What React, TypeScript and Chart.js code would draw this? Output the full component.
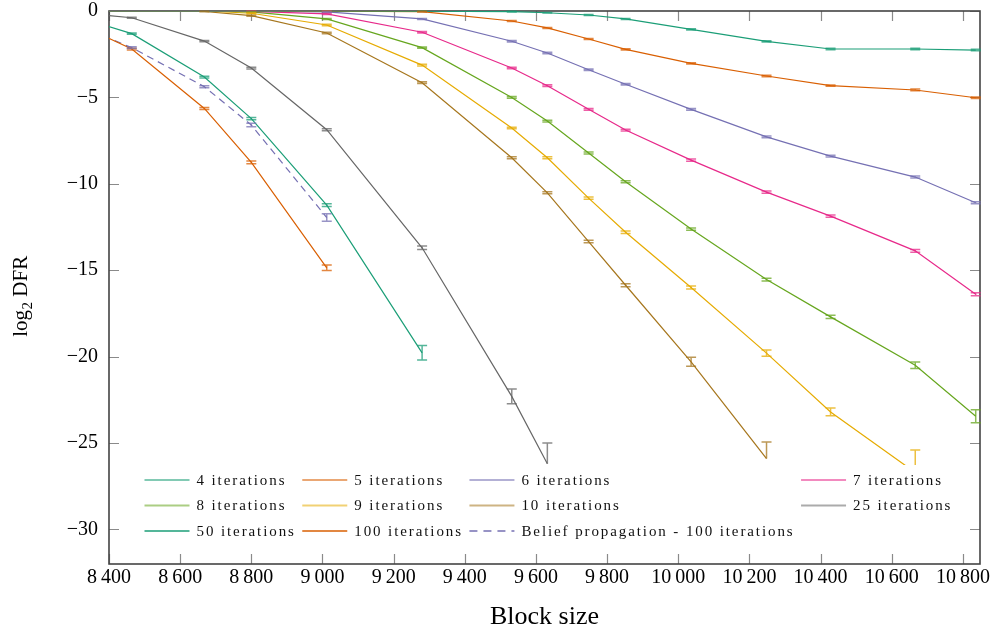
import React, { useEffect, useRef } from 'react';
import { Chart, registerables } from 'chart.js';

Chart.register(...registerables);

// ---- data ----
const blockSizes = [8260, 8464, 8668, 8800, 9012, 9280, 9532, 9632, 9748, 9852, 10036, 10248, 10428, 10666, 10836];
const xTickValues = [8400, 8600, 8800, 9000, 9200, 9400, 9600, 9800, 10000, 10200, 10400, 10600, 10800];
const yTickValues = [0, -5, -10, -15, -20, -25, -30];

const it4 = [0, 0, 0, 0, 0, -0.01, -0.04, -0.1, -0.23, -0.46, -1.06, -1.76, -2.2, -2.2, -2.26];
const it4Err = [0, 0, 0, 0, 0, 0.02, 0.02, 0.02, 0.03, 0.03, 0.04, 0.04, 0.04, 0.04, 0.04];
const it5 = [0, 0, 0, 0, -0.01, -0.04, -0.58, -0.98, -1.62, -2.22, -3.03, -3.76, -4.32, -4.57, -5.02];
const it5Err = [0, 0, 0, 0, 0.02, 0.02, 0.03, 0.03, 0.03, 0.03, 0.04, 0.04, 0.04, 0.05, 0.05];
const it6 = [0, 0, 0, 0, -0.05, -0.46, -1.75, -2.43, -3.4, -4.24, -5.69, -7.28, -8.4, -9.61, -11.1];
const it6Err = [0, 0, 0, 0, 0.03, 0.03, 0.04, 0.04, 0.04, 0.04, 0.05, 0.05, 0.05, 0.06, 0.06];
const it7 = [0, 0, 0, -0.02, -0.17, -1.23, -3.3, -4.32, -5.69, -6.89, -8.63, -10.48, -11.87, -13.88, -16.39];
const it7Err = [0, 0, 0, 0.02, 0.03, 0.04, 0.04, 0.05, 0.05, 0.05, 0.06, 0.06, 0.07, 0.08, 0.09];
const it8 = [0, 0, 0, -0.05, -0.46, -2.12, -5.0, -6.37, -8.22, -9.88, -12.62, -15.54, -17.7, -20.5, -23.45];
const it8Err = [0, 0, 0, 0.02, 0.03, 0.04, 0.05, 0.05, 0.06, 0.06, 0.07, 0.08, 0.1, 0.19, 0.38];
const it9 = [0, 0, 0, -0.13, -0.81, -3.13, -6.77, -8.49, -10.83, -12.8, -16.0, -19.8, -23.2, -26.7, null];
const it9Err: any[] = [0, 0, 0, 0.03, 0.04, 0.05, 0.05, 0.06, 0.06, 0.07, 0.08, 0.18, 0.22, [null, 1.3], 0];
const it10 = [0, 0, -0.03, -0.27, -1.27, -4.15, -8.49, -10.52, -13.34, -15.87, -20.3, -25.9, null, null, null];
const it10Err: any[] = [0, 0, 0.02, 0.03, 0.04, 0.05, 0.06, 0.06, 0.07, 0.08, 0.26, [null, 0.96], 0, 0, 0];
const it25 = [0, -0.39, -1.74, -3.3, -6.87, -13.7, -22.3, -26.2, null, null, null, null, null, null, null];
const it25Err: any[] = [0, 0.03, 0.04, 0.05, 0.06, 0.1, 0.42, [null, 1.2], 0, 0, 0, 0, 0, 0, 0];
const it50 = [-0.01, -1.31, -3.82, -6.23, -11.23, -19.78, null, null, null, null, null, null, null, null, null];
const it50Err = [0, 0.04, 0.05, 0.07, 0.08, 0.42, 0, 0, 0, 0, 0, 0, 0, 0, 0];
const it100 = [-0.25, -2.2, -5.64, -8.76, -14.86, null, null, null, null, null, null, null, null, null, null];
const it100Err = [0, 0.05, 0.06, 0.08, 0.16, 0, 0, 0, 0, 0, 0, 0, 0, 0, 0];
const bp100 = [-0.4, -2.12, -4.38, -6.6, -11.95, null, null, null, null, null, null, null, null, null, null];
const bp100Err = [0, 0.05, 0.06, 0.1, 0.22, 0, 0, 0, 0, 0, 0, 0, 0, 0, 0];

const seriesLabels = [
  '4 iterations', '5 iterations', '6 iterations', '7 iterations',
  '8 iterations', '9 iterations', '10 iterations', '25 iterations',
  '50 iterations', '100 iterations', 'Belief propagation - 100 iterations',
];
const seriesValues = [it4, it5, it6, it7, it8, it9, it10, it25, it50, it100, bp100];
const seriesErrors = [it4Err, it5Err, it6Err, it7Err, it8Err, it9Err, it10Err, it25Err, it50Err, it100Err, bp100Err];
const seriesColors = [
  '#1b9e77', '#d95f02', '#7570b3', '#e7298a', '#66a61e', '#e6ab02', '#a6761d', '#666666',
  '#1b9e77', '#d95f02', '#7570b3',
];
const seriesDashed = [false, false, false, false, false, false, false, false, false, false, true];
const legendFaded = [true, true, true, true, true, true, true, true, false, false, false];

const yTitleMain = 'log';
const yTitleSub = '2';
const yTitleRest = '\u00a0DFR';

function rgba(hex: string, a: number) {
  const n = parseInt(hex.slice(1), 16);
  return `rgba(${(n >> 16) & 255},${(n >> 8) & 255},${n & 255},${a})`;
}

const SERIF = '"Liberation Serif", "DejaVu Serif", serif';

const framePlugin = {
  id: 'frame',
  beforeDatasetsDraw(chart: any) {
    const { ctx, chartArea: a, scales } = chart;
    ctx.save();
    ctx.strokeStyle = '#8a8a8a';
    ctx.lineWidth = 1.2;
    const tl = 10;
    ctx.beginPath();
    xTickValues.forEach((v) => {
      const x = Math.round(scales.x.getPixelForValue(v)) + 0.5;
      ctx.moveTo(x, a.bottom); ctx.lineTo(x, a.bottom - tl);
      ctx.moveTo(x, a.top); ctx.lineTo(x, a.top + tl);
    });
    yTickValues.forEach((v) => {
      const y = Math.round(scales.y.getPixelForValue(v)) + 0.5;
      ctx.moveTo(a.left, y); ctx.lineTo(a.left + tl, y);
      ctx.moveTo(a.right, y); ctx.lineTo(a.right - tl, y);
    });
    ctx.stroke();
    ctx.strokeStyle = '#444';
    ctx.lineWidth = 1.6;
    ctx.strokeRect(a.left, a.top, a.right - a.left, a.bottom - a.top);
    ctx.restore();

    // y-axis title with a real subscript
    ctx.save();
    const cy = (a.top + a.bottom) / 2 + 9;
    ctx.translate(27, cy);
    ctx.rotate(-Math.PI / 2);
    ctx.fillStyle = '#000';
    ctx.textBaseline = 'alphabetic';
    ctx.textAlign = 'left';
    const big = `21px ${SERIF}`;
    const small = `15px ${SERIF}`;
    ctx.font = big;
    const w1 = ctx.measureText(yTitleMain).width;
    const w3 = ctx.measureText(yTitleRest).width;
    ctx.font = small;
    const w2 = ctx.measureText(yTitleSub).width;
    let x = -(w1 + w2 + w3) / 2;
    ctx.font = big;
    ctx.fillText(yTitleMain, x, 0);
    x += w1 + 0.5;
    ctx.font = small;
    ctx.fillText(yTitleSub, x, 5);
    x += w2;
    ctx.font = big;
    ctx.fillText(yTitleRest, x, 0);
    ctx.restore();
  },
};

const errorBarPlugin = {
  id: 'errorBars',
  afterDatasetsDraw(chart: any) {
    const { ctx, chartArea: a, scales } = chart;
    ctx.save();
    ctx.beginPath();
    ctx.rect(a.left - 2, a.top - 2, a.right - a.left + 4, a.bottom - a.top + 4);
    ctx.clip();
    chart.data.datasets.forEach((ds: any) => {
      const errs = ds.errors;
      if (!errs) return;
      ctx.strokeStyle = rgba(ds.borderColor, 0.75);
      ctx.lineWidth = 1.5;
      ds.data.forEach((pt: any, j: number) => {
        if (pt.y == null) return;
        const e = errs[j];
        if (!e) return;
        let down: any, up: any;
        if (Array.isArray(e)) { down = e[0]; up = e[1]; } else { down = e; up = e; }
        const x = scales.x.getPixelForValue(pt.x);
        if (x < a.left || x > a.right) return;
        const yTop = scales.y.getPixelForValue(pt.y + up);
        const yBot = scales.y.getPixelForValue(down == null ? pt.y : pt.y - down);
        ctx.beginPath();
        ctx.moveTo(x, yTop); ctx.lineTo(x, yBot);
        ctx.moveTo(x - 5, yTop); ctx.lineTo(x + 5, yTop);
        if (down != null) { ctx.moveTo(x - 5, yBot); ctx.lineTo(x + 5, yBot); }
        ctx.stroke();
      });
    });
    ctx.restore();
  },
};

const legendPlugin = {
  id: 'insideLegend',
  afterDraw(chart: any) {
    const { ctx, chartArea: a } = chart;
    const ds = chart.data.datasets;
    const cols = 4;
    const sample = 45;
    const textGap = 7;
    const colGap = 6.5;
    const spacing = 1.9;
    ctx.save();
    ctx.font = `15px ${SERIF}`;
    (ctx as any).letterSpacing = '0px';
    const tw = ds.map((d: any) => ctx.measureText(d.label).width + d.label.length * spacing);
    const colW: number[] = [];
    for (let c = 0; c < cols; c++) {
      let m = 0;
      ds.forEach((d: any, i: number) => { if (i % cols === c) m = Math.max(m, sample + textGap + tw[i]); });
      colW.push(m);
    }
    const x0 = a.left + 35.5;
    const y0 = a.top + 469;
    const rowH = 25.5;
    const rows = Math.ceil(ds.length / cols);
    const totalW = colW.reduce((s, w) => s + w, 0) + colGap * (cols - 1);
    ctx.fillStyle = '#ffffff';
    ctx.fillRect(x0 - 8.5, y0 - 15, totalW + 14, rowH * (rows - 1) + 28);
    (ctx as any).letterSpacing = `${spacing}px`;
    ds.forEach((d: any, i: number) => {
      const c = i % cols;
      const r = Math.floor(i / cols);
      let x = x0;
      for (let k = 0; k < c; k++) x += colW[k] + colGap;
      const y = y0 + r * rowH;
      const faded = d.legendFaded;
      ctx.strokeStyle = faded ? rgba(d.borderColor, 0.55) : d.borderColor;
      ctx.lineWidth = faded ? 2.2 : 1.6;
      ctx.setLineDash(d.borderDash && d.borderDash.length ? [8, 6] : []);
      ctx.beginPath();
      ctx.moveTo(x, y); ctx.lineTo(x + sample, y);
      ctx.stroke();
      ctx.setLineDash([]);
      ctx.fillStyle = '#111';
      ctx.textBaseline = 'alphabetic';
      ctx.textAlign = 'left';
      ctx.fillText(d.label, x + sample + textGap, y + 4.5);
    });
    ctx.restore();
  },
};

export default function App() {
  const canvasRef = useRef<HTMLCanvasElement>(null);

  useEffect(() => {
    const canvas = canvasRef.current;
    if (!canvas) return;
    const datasets = seriesLabels.map((label, i) => ({
      label,
      data: blockSizes.map((x, j) => ({ x, y: seriesValues[i][j] })),
      errors: seriesErrors[i],
      borderColor: seriesColors[i],
      backgroundColor: seriesColors[i],
      borderWidth: 1.2,
      borderDash: seriesDashed[i] ? [7, 5] : [],
      legendFaded: legendFaded[i],
      pointRadius: 0,
      pointHoverRadius: 0,
      tension: 0,
      spanGaps: false,
      fill: false,
    }));

    const chart = new Chart(canvas, {
      type: 'line',
      data: { datasets } as any,
      options: {
        animation: false,
        responsive: false,
        devicePixelRatio: 1,
        events: [],
        layout: { padding: { top: 11, right: 18, bottom: 0, left: 0 } },
        plugins: {
          legend: { display: false },
          tooltip: { enabled: false },
        },
        scales: {
          x: {
            type: 'linear',
            min: 8400,
            max: 10848,
            afterBuildTicks: (s: any) => { s.ticks = xTickValues.map((v) => ({ value: v })); },
            afterFit: (s: any) => { s.height = 73; s.paddingLeft = 0; s.paddingRight = 0; },
            grid: { display: false, drawTicks: false },
            border: { display: false },
            ticks: {
              padding: 2,
              color: '#000',
              font: { family: SERIF, size: 20 },
              maxRotation: 0,
              autoSkip: false,
              callback: (v: any) => {
                const n = Number(v);
                const th = Math.floor(n / 1000);
                const rest = String(n % 1000).padStart(3, '0');
                return `${th}\u2009${rest}`;
              },
            },
            title: {
              display: true,
              text: 'Block size',
              color: '#000',
              font: { family: SERIF, size: 26 },
              padding: { top: 0, bottom: 4 },
            },
          },
          y: {
            type: 'linear',
            min: -32,
            max: 0,
            afterBuildTicks: (s: any) => { s.ticks = yTickValues.map((v) => ({ value: v })); },
            afterFit: (s: any) => { s.width = 109; s.paddingTop = 0; s.paddingBottom = 0; },
            grid: { display: false, drawTicks: false },
            border: { display: false },
            ticks: {
              padding: 11,
              color: '#000',
              font: { family: SERIF, size: 20 },
              autoSkip: false,
              callback: (v: any) => {
                const n = Number(v);
                return n === 0 ? '0' : (n < 0 ? '\u2212' : '') + Math.abs(n);
              },
            },
            title: { display: false },
          },
        },
      } as any,
      plugins: [framePlugin, errorBarPlugin, legendPlugin],
    });
    return () => chart.destroy();
  }, []);

  return (
    <div style={{ position: 'absolute', left: 0, top: 0, width: 998, height: 637, background: '#fff' }}>
      <canvas ref={canvasRef} width={998} height={637} style={{ width: 998, height: 637, display: 'block' }} />
    </div>
  );
}
